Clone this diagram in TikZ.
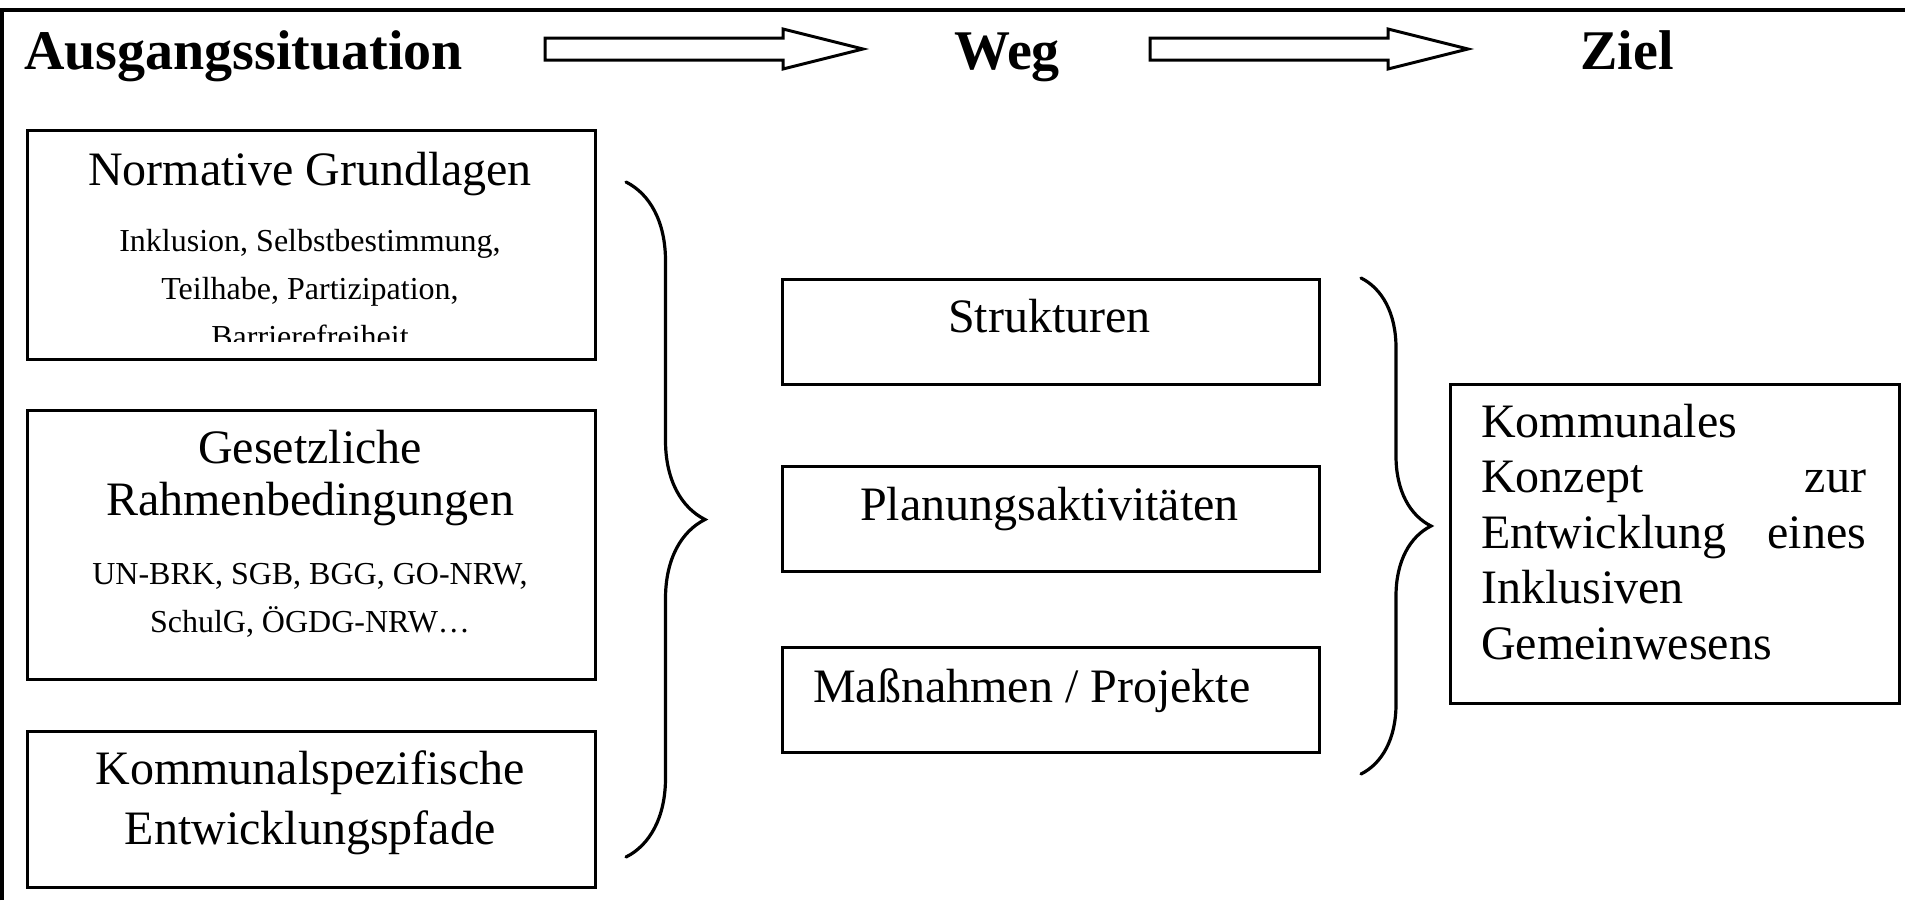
\documentclass[tikz,border=0pt]{standalone}
\usepackage{fontspec}
\setmainfont{Liberation Serif}
\usetikzlibrary{decorations.pathreplacing}

\begin{document}
\begin{tikzpicture}[x=1pt, y=-1pt,
    box/.style={draw, line width=3.4pt, inner sep=0pt, anchor=north west},
    big/.style={font=\fontsize{48}{52}\selectfont, inner sep=0pt},
    small/.style={font=\fontsize{32}{48}\selectfont, inner sep=0pt, align=center},
    head/.style={font=\fontsize{56}{60}\selectfont\bfseries, inner sep=0pt, anchor=base},
    curly/.style={decorate, line width=3.2pt, line cap=round}]
  \useasboundingbox (0,0) rectangle (1905,900);
  \draw[line width=4pt] (2,900) -- (2,10) -- (1905,10);
  % headings and the two hollow arrows
  \node[head, anchor=base west] (ausg) at (24,69) {Ausgangssituation};
  \node[head] (weg) at (1007,69) {Weg};
  \node[head] (ziel) at (1627,69) {Ziel};
  \foreach \x in {545,1150} {
    \draw[line width=3pt, line join=miter] (\x,38) -- ++(238,0) -- ++(0,-9) -- ++(80,20)
      -- ++(-80,20) -- ++(0,-9) -- ++(-238,0) -- cycle;
  }
  % left column (multi-line nodes sit on their last baseline)
  \node[box, minimum width=568pt, minimum height=229pt] (normbox) at (26,129) {};
  \node[box, minimum width=568pt, minimum height=269pt] (gesbox) at (26,409) {};
  \node[box, minimum width=568pt, minimum height=156pt] (kombox) at (26,730) {};
  \node[big, anchor=base] (normhead) at (310,185) {Normative Grundlagen};
  \begin{scope}
    \clip (26,129) rectangle (594,341);
    \node[small, anchor=base] (normtext) at (310,347) {Inklusion, Selbstbestimmung,\\Teilhabe, Partizipation,\\Barrierefreiheit};
  \end{scope}
  \node[big, anchor=base, align=center] (geshead) at (310,515) {Gesetzliche\\Rahmenbedingungen};
  \node[small, anchor=base] (gestext) at (310,632) {UN-BRK, SGB, BGG, GO-NRW,\\SchulG, ÖGDG-NRW…};
  \node[big, anchor=base, align=center, font=\fontsize{48}{60}\selectfont] (komhead) at (310,844) {Kommunalspezifische\\Entwicklungspfade};
  % middle column
  \foreach \n/\y in {struk/278, plan/465, mass/646} {
    \node[box, minimum width=537pt, minimum height=105pt] (\n box) at (781,\y) {};
  }
  \node[big, anchor=base] (struk) at (1049.5,332) {Strukturen};
  \node[big, anchor=base] (plan) at (1049.5,520) {Planungsaktivitäten};
  \node[big, anchor=base west] (mass) at (813,702) {Maßnahmen / Projekte};
  % goal
  \node[box, minimum width=449pt, minimum height=319pt] (zielbox) at (1449,383) {};
  \node[big, anchor=base west, text width=385pt, align=left, font=\fontsize{48}{55.5}\selectfont] (zieltext) at (1481,437)
    {Kommunales\\Konzept \hfill zur\\Entwicklung \hfill eines\\Inklusiven\\Gemeinwesens};
  % braces
  \coordinate (b1top) at (626,182);
  \coordinate (b1bot) at (626,857);
  \coordinate (b2top) at (1361,278);
  \coordinate (b2bot) at (1361,774);
  \draw[curly, decoration={brace, amplitude=79pt}] (b1top) -- (b1bot);
  \draw[curly, decoration={brace, amplitude=70pt}] (b2top) -- (b2bot);
\end{tikzpicture}
\end{document}
